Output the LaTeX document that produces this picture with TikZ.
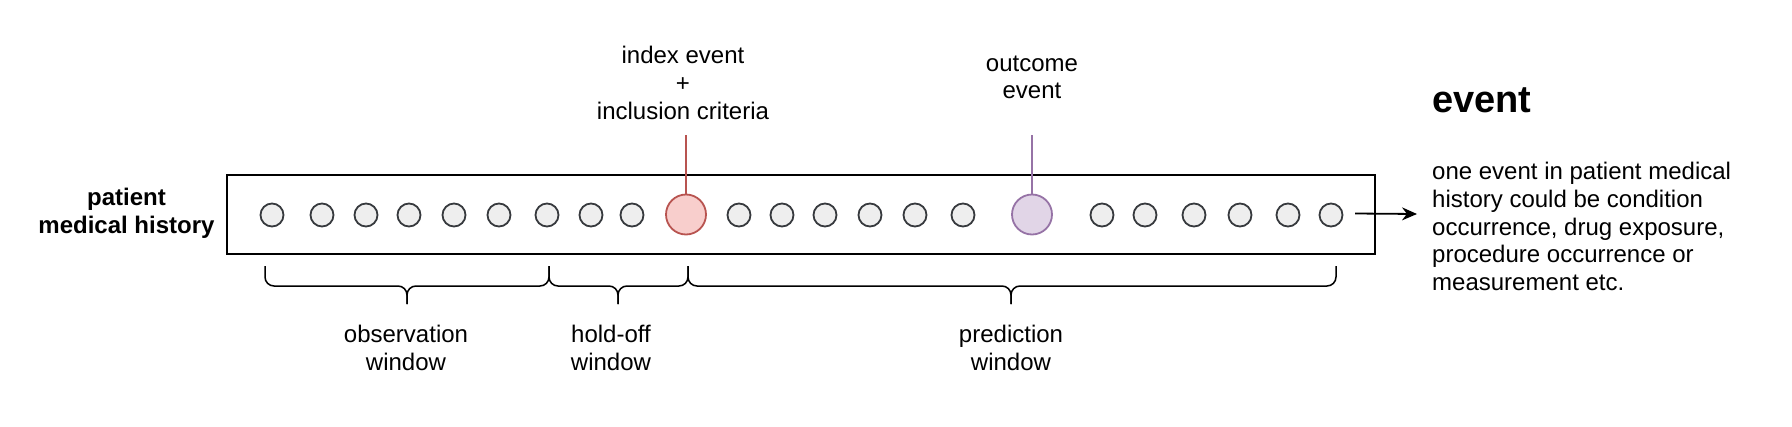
\documentclass[tikz,border=0pt]{standalone}
\usepackage{fontspec}
\setmainfont{Liberation Sans}
\usetikzlibrary{arrows.meta}
\definecolor{evfill}{HTML}{EEEEEE}
\definecolor{evdraw}{HTML}{36393D}
\definecolor{idxfill}{HTML}{F8CECC}
\definecolor{idxdraw}{HTML}{B85450}
\definecolor{outfill}{HTML}{E1D5E7}
\definecolor{outdraw}{HTML}{9673A6}
\begin{document}
\begin{tikzpicture}[x=1pt,y=-1pt,
  ev/.style={circle,draw=evdraw,fill=evfill,line width=1.8pt,minimum size=23pt,inner sep=0pt},
  bigev/.style={circle,line width=1.8pt,minimum size=40pt,inner sep=0pt},
  lbl/.style={font=\fontsize{24}{27.6}\selectfont,align=center,inner sep=0pt},
  bracepath/.style={line width=1.5pt,rounded corners=9pt},
  pin/.style={line width=1.8pt},
]
\useasboundingbox (0,0) rectangle (1792,426);
% history box
\node[draw,line width=2.2pt,minimum width=1148pt,minimum height=79pt,inner sep=0pt] (hist) at (801,214.5) {};
% events
\foreach \i/\x in {1/272,2/322,3/366,4/409,5/454,6/499,7/547,8/591,9/632,
                   10/739,11/782,12/825,13/870,14/915,15/963,
                   16/1102,17/1145,18/1194,19/1240,20/1288,21/1331}
  \node[ev] (c\i) at (\x,215) {};
\node[bigev,draw=idxdraw,fill=idxfill] (idx) at (686,214.5) {};
\node[bigev,draw=outdraw,fill=outfill] (out) at (1032,214.5) {};
% labels
\node[lbl,font=\fontsize{24}{27.6}\bfseries\selectfont] (pmh) at (126.5,213.5) {patient\\medical history};
\node[lbl] (idxlbl) at (683,83) {index event\\+\\inclusion criteria};
\node[lbl] (outlbl) at (1032,77.5) {outcome\\event};
\coordinate (idxtop) at (686,135);
\coordinate (outtop) at (1032,135);
\draw[pin,draw=idxdraw] (idxtop) -- (idx.north);
\draw[pin,draw=outdraw] (outtop) -- (out.north);
% braces
\draw[bracepath] (265,266) -- (265,286) -- (407,286) -- (407,304);
\draw[bracepath] (549,266) -- (549,286) -- (407,286) -- (407,304);
\draw[bracepath] (549,266) -- (549,286) -- (618,286) -- (618,304);
\draw[bracepath] (688,266) -- (688,286) -- (618,286) -- (618,304);
\draw[bracepath] (688,266) -- (688,286) -- (1011,286) -- (1011,304);
\draw[bracepath] (1336,266) -- (1336,286) -- (1011,286) -- (1011,304);
\node[lbl] (obs) at (406,348) {observation\\window};
\node[lbl] (hold) at (611,348) {hold-off\\window};
\node[lbl] (pred) at (1011,348) {prediction\\window};
% legend
\coordinate (astart) at (1355,213.5);
\coordinate (aend) at (1417,214);
\draw[line width=1.8pt,-{Stealth[length=15pt,width=13pt]}] (astart) -- (aend);
\node[anchor=base west,inner sep=0pt,font=\fontsize{38}{44}\bfseries\selectfont] (title) at (1432,112) {event};
\node[lbl,align=left,anchor=west] (desc) at (1432,226.5) {one event in patient medical\\history could be condition\\occurrence, drug exposure,\\procedure occurrence or\\measurement etc.};
\end{tikzpicture}
\end{document}
